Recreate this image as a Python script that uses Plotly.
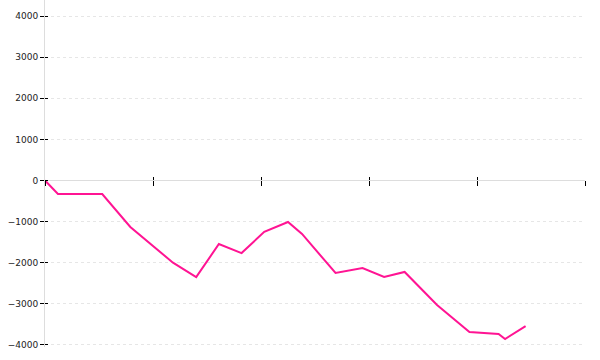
import plotly.graph_objects as go

# Data (x in arbitrary time units, y values)
x_vals = [0, 1.2, 5.3, 7.9, 11.85, 14.0, 16.1, 18.2, 20.3, 22.5, 23.8, 26.9,
          29.4, 31.4, 33.3, 36.3, 39.3, 41.3, 42.0, 42.6, 44.5]
y_vals = [0, -330, -330, -1130, -2000, -2350, -1545, -1765, -1250, -1010, -1300, -2250,
          -2130, -2345, -2225, -3030, -3685, -3710, -3735, -3855, -3540]
y_ticks = [-4000, -3000, -2000, -1000, 0, 1000, 2000, 3000, 4000]
x_ticks = [0, 10, 20, 30, 40, 50]

x_range = [0, 50]
y_range = [-4050, 4390]
zero_pos = (0 - y_range[0]) / (y_range[1] - y_range[0])

fig = go.Figure()
fig.add_trace(go.Scatter(x=x_vals, y=y_vals, mode="lines",
                         line=dict(color="#ff1493", width=2), hoverinfo="skip"))
fig.add_trace(go.Scatter(x=[None], y=[None], xaxis="x2", yaxis="y2", showlegend=False))

font = dict(family="DejaVu Sans", size=9, color="#222")
fig.update_layout(
    width=600, height=360,
    margin=dict(l=45, r=15, t=0, b=13),
    paper_bgcolor="white", plot_bgcolor="white",
    showlegend=False,
    font=font,
    xaxis=dict(range=x_range, tickvals=x_ticks, showticklabels=False,
               ticks="outside", ticklen=5, tickwidth=1, tickcolor="#000",
               showgrid=False, zeroline=False,
               showline=True, linecolor="#dddddd", linewidth=1,
               anchor="free", position=zero_pos),
    yaxis=dict(range=y_range, tickvals=y_ticks, ticktext=[str(v).replace("-", "−") for v in y_ticks],
               ticks="outside", ticklen=4, tickwidth=1, tickcolor="#000",
               showgrid=True, gridcolor="#e6e6e6", griddash="dot", gridwidth=1,
               zeroline=True, zerolinecolor="#dddddd", zerolinewidth=1,
               showline=True, linecolor="#dddddd", linewidth=1,
               tickfont=font, ticklabelstandoff=0),
    xaxis2=dict(range=x_range, tickvals=x_ticks, showticklabels=False,
                ticks="inside", ticklen=3, tickwidth=1, tickcolor="#000",
                showgrid=False, zeroline=False, showline=False,
                overlaying="x", anchor="free", position=zero_pos),
    yaxis2=dict(range=y_range, tickvals=y_ticks, showticklabels=False,
                ticks="inside", ticklen=3, tickwidth=1, tickcolor="#000",
                showgrid=False, zeroline=False, showline=False,
                overlaying="y", anchor="x"),
)

fig.write_html("out.html")
